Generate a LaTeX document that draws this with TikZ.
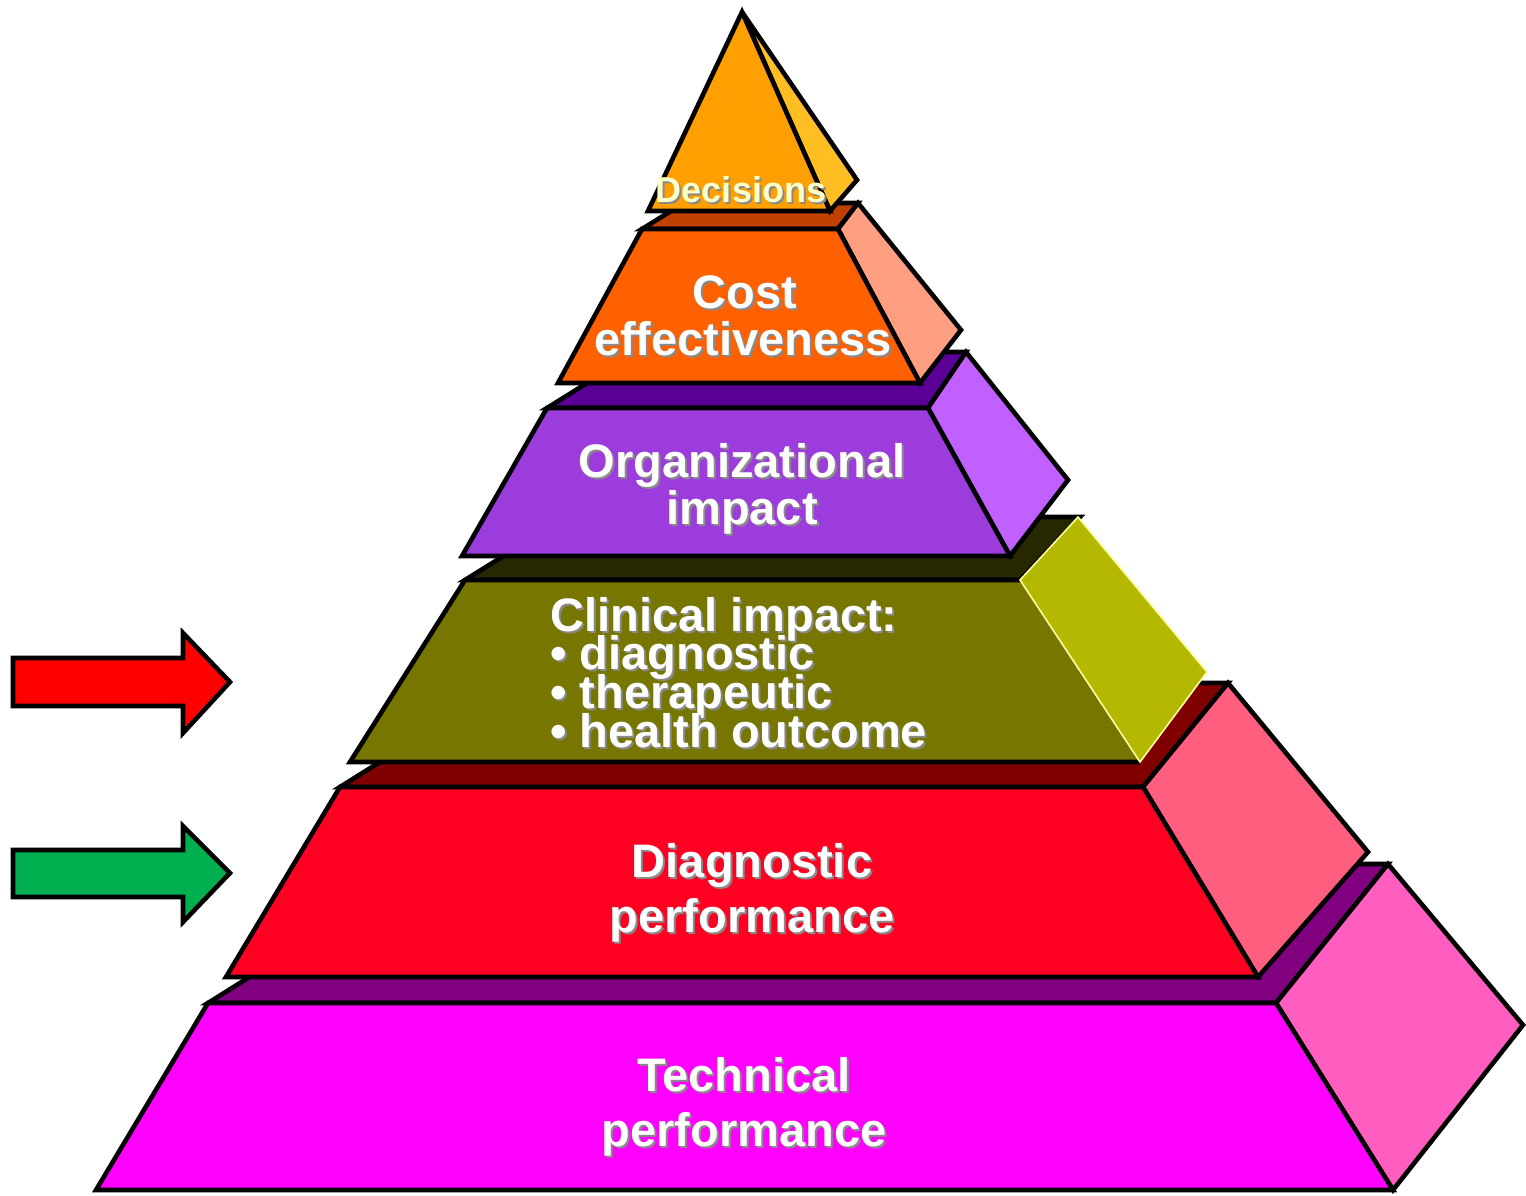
\documentclass[tikz,border=0pt]{standalone}
\usepackage{fontspec}
\setmainfont{Liberation Sans}
\definecolor{decF}{HTML}{FFA000}
\definecolor{decS}{HTML}{FFBF22}
\definecolor{costF}{HTML}{FF6000}
\definecolor{costS}{HTML}{FF9E80}
\definecolor{costT}{HTML}{C04000}
\definecolor{orgF}{HTML}{9D3CDC}
\definecolor{orgS}{HTML}{C060FF}
\definecolor{orgT}{HTML}{5A0096}
\definecolor{cliF}{HTML}{767600}
\definecolor{cliS}{HTML}{B4B800}
\definecolor{cliT}{HTML}{282800}
\definecolor{diaF}{HTML}{FF0022}
\definecolor{diaS}{HTML}{FF5E7E}
\definecolor{diaT}{HTML}{800000}
\definecolor{tecF}{HTML}{FF00FF}
\definecolor{tecS}{HTML}{FF5EC0}
\definecolor{tecT}{HTML}{800080}
\definecolor{arrRed}{HTML}{FF0000}
\definecolor{arrGreen}{HTML}{00B050}
\definecolor{shadowgray}{HTML}{8A8A8A}
\definecolor{paleyellow}{HTML}{FFFFC8}
\definecolor{edgeyellow}{HTML}{FFFFA0}
% text with a drop shadow, set in one box
\newcommand\shadowed[1]{\makebox[0pt][l]{\hspace{1pt}\raisebox{-1pt}{\textcolor{shadowgray}{#1}}}#1}
\begin{document}
\begin{tikzpicture}[x=0.5pt,y=-0.5pt,line width=2.3pt,line join=miter,
  face/.style={draw=black,fill=#1},
  lbl/.style={font=\bfseries\fontsize{23.5}{28}\selectfont,text=white,inner sep=0pt,
    anchor=base,text height=17pt,text depth=2pt}]
\useasboundingbox (0,0) rectangle (1526,1195);
% ---- Technical performance (bottom)
\path[face=tecT] (208,1003) -- (1276,1003) -- (1388,864) -- (430,864) -- cycle;
\path[face=tecS] (1276,1003) -- (1388,864) -- (1523,1025) -- (1393,1190) -- cycle;
\path[face=tecF] (208,1003) -- (1276,1003) -- (1393,1190) -- (96,1190) -- cycle;
% ---- Diagnostic performance
\path[face=diaT] (340,787) -- (1143,787) -- (1228,683) -- (506,683) -- cycle;
\path[face=diaS] (1143,787) -- (1228,683) -- (1368,852) -- (1258,977) -- cycle;
\path[face=diaF] (340,787) -- (1143,787) -- (1258,977) -- (226,977) -- cycle;
% ---- Clinical impact
\path[face=cliT] (465,580) -- (1020,580) -- (1080,517) -- (566,517) -- cycle;
\fill[cliF] (465,580) -- (1020,580) -- (1140,762) -- (350,762) -- cycle;
\draw (1020,580) -- (465,580) -- (350,762) -- (1140,762);
\path[fill=cliS,draw=edgeyellow,line width=0.8pt] (1020,580) -- (1078,517) -- (1207,672) -- (1140,762) -- cycle;
% ---- Organizational impact
\path[face=orgT] (547,408) -- (928,408) -- (966,352) -- (637,352) -- cycle;
\path[face=orgS] (928,408) -- (966,352) -- (1068,480) -- (1010,556) -- cycle;
\path[face=orgF] (547,408) -- (928,408) -- (1010,556) -- (462,556) -- cycle;
% ---- Cost effectiveness
\path[face=costT] (642,229) -- (838,229) -- (858,203) -- (684,203) -- cycle;
\path[face=costS] (838,229) -- (858,203) -- (961,330) -- (920,383) -- cycle;
\path[face=costF] (642,229) -- (838,229) -- (920,383) -- (558,383) -- cycle;
% ---- Decisions (apex)
\path[face=decS] (742,12) -- (857,180) -- (830,211) -- cycle;
\path[face=decF] (742,12) -- (830,211) -- (648,211) -- cycle;
% ---- Arrows
\path[face=arrRed] (13,658) -- (183,658) -- (183,633) -- (230,682) -- (183,733) -- (183,706) -- (13,706) -- cycle;
\path[face=arrGreen] (13,850) -- (183,850) -- (183,826) -- (230,873) -- (183,922) -- (183,897) -- (13,897) -- cycle;
% ---- Labels
\node[lbl,text=paleyellow,font=\bfseries\fontsize{18}{22}\selectfont,text height=13pt] (dec) at (741,202) {\shadowed{Decisions}};
\node[lbl] (cost1) at (745,308) {\shadowed{Cost}};
\node[lbl] (cost2) at (743,355) {\shadowed{effectiveness}};
\node[lbl] (org1) at (742,477) {\shadowed{Organizational}};
\node[lbl] (org2) at (742,524) {\shadowed{impact}};
\node[lbl,anchor=base west] (cli1) at (548,631) {\shadowed{Clinical impact:}};
\node[lbl,anchor=base west] (cli2) at (548,669) {\shadowed{• diagnostic}};
\node[lbl,anchor=base west] (cli3) at (548,708) {\shadowed{• therapeutic}};
\node[lbl,anchor=base west] (cli4) at (548,747) {\shadowed{• health outcome}};
\node[lbl] (dia1) at (752,877) {\shadowed{Diagnostic}};
\node[lbl] (dia2) at (752,932) {\shadowed{performance}};
\node[lbl] (tec1) at (744,1091) {\shadowed{Technical}};
\node[lbl] (tec2) at (744,1146) {\shadowed{performance}};
\end{tikzpicture}
\end{document}
